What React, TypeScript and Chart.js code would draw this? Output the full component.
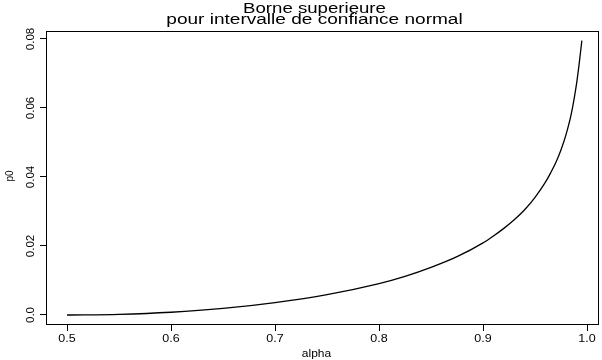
import React, { useEffect, useRef } from "react";
import { Chart, registerables } from "chart.js";

Chart.register(...registerables);

const alphaValues = [0.5, 0.55, 0.6, 0.65, 0.7, 0.75, 0.8, 0.825, 0.85, 0.875, 0.9, 0.91, 0.92, 0.93, 0.94, 0.95, 0.96, 0.965, 0.97, 0.975, 0.98, 0.985, 0.99, 0.9925, 0.995];
const p0Values = [0.0, 0.0002, 0.0008, 0.0019, 0.0036, 0.0059, 0.0091, 0.0112, 0.0138, 0.0169, 0.0209, 0.0229, 0.0251, 0.0276, 0.0305, 0.0341, 0.0385, 0.0412, 0.0442, 0.0479, 0.0525, 0.0585, 0.0672, 0.073, 0.0795];
const xTickValues = [0.5, 0.6, 0.7, 0.8, 0.9, 1.0];
const xTickLabels = ["0.5", "0.6", "0.7", "0.8", "0.9", "1.0"];
const yTickValues = [0.0, 0.02, 0.04, 0.06, 0.08];
const yTickLabels = ["0.0", "0.02", "0.04", "0.06", "0.08"];
const titleLines = ["Borne superieure", "pour intervalle de confiance normal"];
const xTitle = "alpha";
const yTitle = "p0";

const FONT = '"Liberation Sans", Arial, sans-serif';

function drawStretched(ctx: CanvasRenderingContext2D, text: string, x: number, y: number, sx: number) {
  ctx.save();
  ctx.translate(x, y);
  ctx.scale(sx, 1);
  ctx.fillText(text, 0, 0);
  ctx.restore();
}

const framePlugin = {
  id: "framePlugin",
  afterDraw(chart: any) {
    const ctx: CanvasRenderingContext2D = chart.ctx;
    const area = chart.chartArea;
    const xs = chart.scales.x;
    const ys = chart.scales.y;
    ctx.save();
    ctx.strokeStyle = "#000";
    ctx.lineWidth = 1;
    ctx.strokeRect(area.left + 0.5, area.top + 0.5, area.right - area.left - 1, area.bottom - area.top - 1);

    ctx.fillStyle = "#000";
    ctx.textBaseline = "middle";
    ctx.textAlign = "center";

    // title
    ctx.font = `14px ${FONT}`;
    const cx = (area.left + area.right) / 2 - 8;
    drawStretched(ctx, titleLines[0], cx, 9, 1.33);
    drawStretched(ctx, titleLines[1], cx, 20.5, 1.36);

    // x tick labels
    ctx.font = `10px ${FONT}`;
    xTickValues.forEach((v, i) => {
      const px = xs.getPixelForValue(v);
      drawStretched(ctx, xTickLabels[i], px, area.bottom + 14, 1.25);
    });
    // y tick labels (rotated)
    yTickValues.forEach((v, i) => {
      const py = ys.getPixelForValue(v);
      ctx.save();
      ctx.translate(area.left - 15, py);
      ctx.rotate(-Math.PI / 2);
      ctx.scale(1.15, 1);
      ctx.fillText(yTickLabels[i], 0, 0);
      ctx.restore();
    });

    // axis titles
    ctx.font = `10px ${FONT}`;
    drawStretched(ctx, xTitle, (area.left + area.right) / 2 - 6, area.bottom + 29, 1.2);
    ctx.save();
    ctx.translate(10, (area.top + area.bottom) / 2 - 2);
    ctx.rotate(-Math.PI / 2);
    ctx.fillText(yTitle, 0, 0);
    ctx.restore();
    ctx.restore();
  },
};

export default function App() {
  const ref = useRef<HTMLCanvasElement | null>(null);
  useEffect(() => {
    if (!ref.current) return;
    const chart = new Chart(ref.current, {
      type: "line",
      data: {
        datasets: [
          {
            data: alphaValues.map((a, i) => ({ x: a, y: p0Values[i] })),
            borderColor: "#000",
            borderWidth: 1.3,
            pointRadius: 0,
            fill: false,
            cubicInterpolationMode: "monotone",
          },
        ],
      },
      options: {
        animation: false,
        responsive: false,
        maintainAspectRatio: false,
        layout: { padding: { left: 40, right: 3, top: 31, bottom: 29 } },
        plugins: { legend: { display: false }, title: { display: false }, tooltip: { enabled: false } },
        scales: {
          x: {
            type: "linear",
            min: 0.4798,
            max: 1.0115,
            afterBuildTicks: (scale: any) => {
              scale.ticks = xTickValues.map((v) => ({ value: v }));
            },
            grid: { display: true, drawOnChartArea: false, drawTicks: true, tickLength: 6, color: "#000" },
            border: { display: false },
            ticks: { display: false },
          },
          y: {
            type: "linear",
            min: -0.0029,
            max: 0.0823,
            afterBuildTicks: (scale: any) => {
              scale.ticks = yTickValues.map((v) => ({ value: v }));
            },
            grid: { display: true, drawOnChartArea: false, drawTicks: true, tickLength: 6, color: "#000" },
            border: { display: false },
            ticks: { display: false },
          },
        },
      },
      plugins: [framePlugin],
    });
    return () => chart.destroy();
  }, []);
  return (
    <div style={{ position: "absolute", left: 0, top: 0, width: 602, height: 360, background: "#fff" }}>
      <canvas ref={ref} width={602} height={360} style={{ width: 602, height: 360, display: "block" }} />
    </div>
  );
}
